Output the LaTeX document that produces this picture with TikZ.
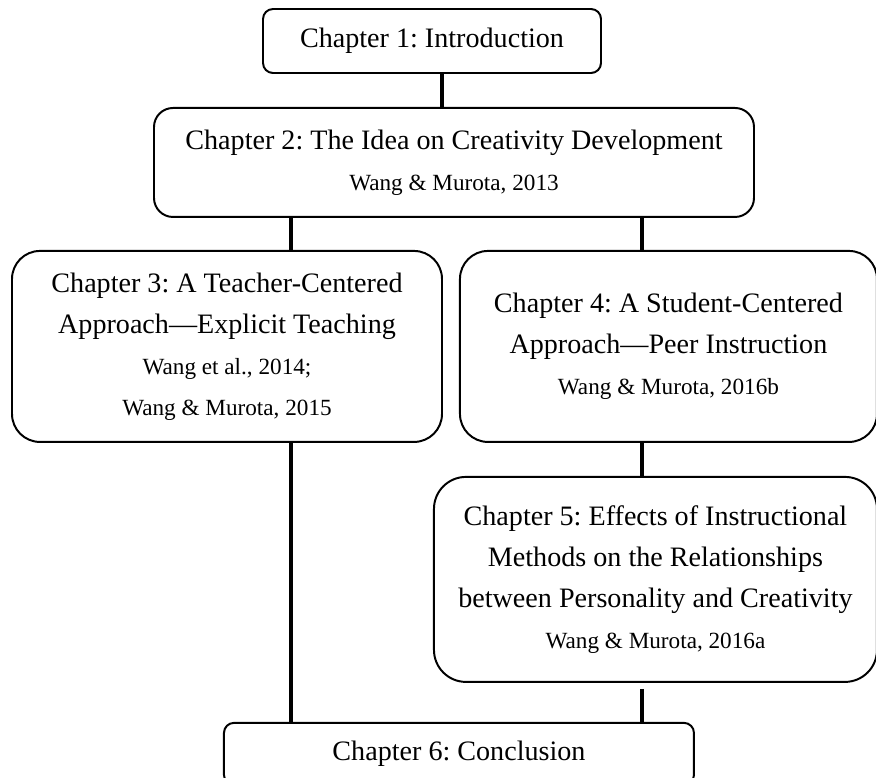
\documentclass[tikz,border=0pt]{standalone}
\usepackage{fontspec}
\setmainfont{Liberation Serif}
\usetikzlibrary{positioning}
\frenchspacing

\newcommand{\refline}[1]{{\fontsize{16.5}{29.2}\selectfont #1}}

\begin{document}
\begin{tikzpicture}[
        chapbox/.style={rectangle, draw=black, line width=1.4pt, align=center, inner sep=0pt,
                        font=\fontsize{20}{29.2}\selectfont},
        link/.style={line width=2.2pt},
    ]
    \useasboundingbox (0,0) rectangle (21.9,-19.45);

    \node[chapbox, rounded corners=0.25cm, minimum width=8.45cm, minimum height=1.6cm] (intro) at (10.8,-1.025) {Chapter 1: Introduction};
    \node[chapbox, rounded corners=0.475cm, minimum width=15cm, minimum height=2.725cm] (idea) [below=0.825cm of intro, xshift=0.55cm]
        {Chapter 2: The Idea on Creativity Development\\\refline{Wang \& Murota, 2013}};
    \node[chapbox, rounded corners=0.7cm, minimum width=10.75cm, minimum height=4.775cm] (teacher) [below=0.8cm of idea, xshift=-5.675cm]
        {Chapter 3: A Teacher-Centered\\Approach---Explicit Teaching\\\refline{Wang et al., 2014;}\\\refline{Wang \& Murota, 2015}};
    \node[chapbox, rounded corners=0.7cm, minimum width=10.425cm, minimum height=4.775cm] (student) [right=0.4cm of teacher]
        {Chapter 4: A Student-Centered\\Approach---Peer Instruction\\\refline{Wang \& Murota, 2016b}};
    \node[chapbox, rounded corners=0.8cm, minimum width=11.075cm, minimum height=5.125cm] (effects) [below=0.825cm of student, xshift=-0.325cm]
        {Chapter 5: Effects of Instructional\\Methods on the Relationships\\between Personality and Creativity\\\refline{Wang \& Murota, 2016a}};
    \node[chapbox, rounded corners=0.25cm, minimum width=11.75cm, minimum height=1.55cm] (conclusion) [below=0.975cm of effects, xshift=-4.9125cm]
        {Chapter 6: Conclusion};

    % vertical links between the chapters
    \draw[link] ([xshift=0.25cm]intro.south) coordinate (j12) -- (j12 |- idea.north);
    \draw[link] ([xshift=-4.075cm]idea.south) coordinate (j23) -- (j23 |- teacher.north);
    \draw[link] ([xshift=4.7cm]idea.south) coordinate (j24) -- (j24 |- student.north);
    \draw[link] (j24 |- student.south) -- (j24 |- effects.north);
    \draw[link, shorten <=0.15cm] (j24 |- effects.south) -- (j24 |- conclusion.north);
    \draw[link] (j23 |- teacher.south) -- (j23 |- conclusion.north);
\end{tikzpicture}
\end{document}
